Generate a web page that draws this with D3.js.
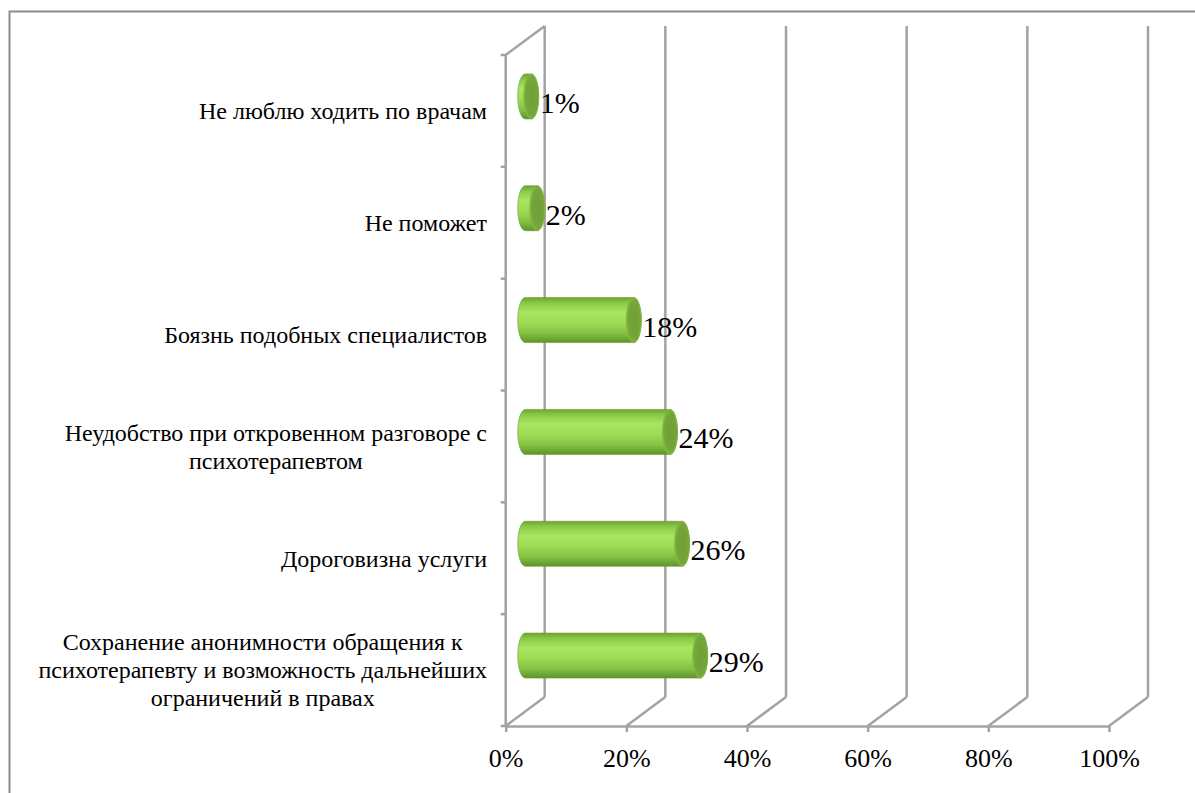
<!DOCTYPE html>
<html>
<head>
<meta charset="utf-8">
<script src="https://d3js.org/d3.v7.min.js"></script>
<style>
  html, body { margin: 0; padding: 0; background: #fff; }
  svg { display: block; }
  svg text { font-family: 'Liberation Serif', 'Times New Roman', serif; }
</style>
</head>
<body>
<svg id="chart" width="1195" height="793"></svg>
<script>
// Reasons for not seeing a psychotherapist, share of respondents (%)
const categories = [
  "Не люблю ходить по врачам",
  "Не поможет",
  "Боязнь подобных специалистов",
  "Неудобство при откровенном разговоре с\nпсихотерапевтом",
  "Дороговизна услуги",
  "Сохранение анонимности обращения к\nпсихотерапевту и возможность дальнейших\nограничений в правах"
];
const values = [1, 2, 18, 24, 26, 29];
const tickValues = [0, 20, 40, 60, 80, 100];

(function () {
const svg = d3.select("#chart");
const W = 1195, H = 793;
const serif = "'Liberation Serif', 'Times New Roman', serif";

// plot geometry: front plane of the 3D box and the depth offset of the back wall
const plotLeft = 505.7, plotRight = 1109, plotTop = 55, plotBottom = 726;
const depthX = 39, depthY = -29;
const gridColor = "#a3a3a3";

const x = d3.scaleLinear().domain([0, 100]).range([plotLeft, plotRight]);
const y = d3.scaleBand().domain(categories).range([plotTop, plotBottom]).paddingInner(0).paddingOuter(0);

// outer chart frame (right and bottom edges fall outside the page)
svg.append("rect")
  .attr("x", 9.5).attr("y", 11.5)
  .attr("width", W + 20).attr("height", H + 20)
  .attr("fill", "#fff")
  .attr("stroke", "#8c8c8c").attr("stroke-width", 2);

// gradients for the cylinders
const defs = svg.append("defs");
const body = defs.append("linearGradient").attr("id", "bodyGrad")
  .attr("x1", 0).attr("y1", 0).attr("x2", 0).attr("y2", 1);
[["0%", "#6ea432"], ["12%", "#8ac848"], ["32%", "#a8e660"], ["55%", "#9edc56"], ["80%", "#84c042"], ["100%", "#5f922b"]]
  .forEach(([o, c]) => body.append("stop").attr("offset", o).attr("stop-color", c));
const cap = defs.append("radialGradient").attr("id", "capGrad")
  .attr("cx", "55%").attr("cy", "50%").attr("r", "60%");
[["0%", "#6f9f36"], ["70%", "#74a63a"], ["100%", "#8cc24a"]]
  .forEach(([o, c]) => cap.append("stop").attr("offset", o).attr("stop-color", c));

const grid = svg.append("g")
  .attr("stroke", gridColor).attr("stroke-width", 2.5).attr("fill", "none")
  .attr("stroke-linecap", "butt");

// back wall gridlines and floor diagonals
tickValues.forEach(t => {
  grid.append("line")
    .attr("x1", x(t) + depthX).attr("y1", plotTop + depthY)
    .attr("x2", x(t) + depthX).attr("y2", plotBottom + depthY);
  grid.append("line")
    .attr("x1", x(t)).attr("y1", plotBottom)
    .attr("x2", x(t) + depthX).attr("y2", plotBottom + depthY);
});

// left wall: front edge, top diagonal and category ticks
grid.append("line").attr("x1", plotLeft).attr("y1", plotTop).attr("x2", plotLeft).attr("y2", plotBottom);
grid.append("line").attr("x1", plotLeft).attr("y1", plotTop).attr("x2", plotLeft + depthX).attr("y2", plotTop + depthY);
const edges = categories.map(c => y(c)).concat([plotBottom]);
edges.forEach(e => {
  grid.append("line").attr("x1", plotLeft - 5).attr("y1", e).attr("x2", plotLeft).attr("y2", e);
});

// horizontal axis along the front floor edge
const xAxis = d3.axisBottom(x).tickValues(tickValues).tickFormat(d => d + "%")
  .tickSizeInner(6).tickSizeOuter(0).tickPadding(17);
const gx = svg.append("g").attr("transform", `translate(0,${plotBottom})`).call(xAxis);
gx.attr("font-family", null);
gx.select(".domain").attr("stroke", gridColor).attr("stroke-width", 2.5);
gx.selectAll(".tick line").attr("stroke", gridColor).attr("stroke-width", 2.5);
gx.selectAll(".tick text")
  .style("font-family", serif)
  .attr("font-size", 26).attr("fill", "#000").attr("dy", "0.71em");

// category labels: wrapped lines centred within a right-aligned block
const catSize = 24, lineH = 28, labelRight = 487;
const labels = svg.append("g");
categories.forEach(c => {
  const lines = c.split("\n");
  const t = labels.append("text")
    .style("font-family", serif).attr("font-size", catSize).attr("fill", "#000")
    .attr("text-anchor", "middle");
  const cy = y(c) + y.bandwidth() / 2;
  lines.forEach((ln, i) => {
    t.append("tspan").text(ln)
      .attr("y", cy + (i - (lines.length - 1) / 2) * lineH)
      .attr("dy", "0.35em");
  });
  // measure widest line to place the block's right edge
  let maxW = 0;
  t.selectAll("tspan").each(function () { maxW = Math.max(maxW, this.getComputedTextLength()); });
  t.selectAll("tspan").attr("x", labelRight - maxW / 2);
});

// cylinders sit at mid-depth
const rx = 7.5, ry = 22.5;
const midX = depthX / 2, midY = depthY / 2;
const bars = svg.append("g");
categories.forEach((c, i) => {
  const v = values[i];
  const x0 = x(0) + midX, x1 = x(v) + midX;
  const cy = y(c) + y.bandwidth() / 2 + midY;
  const path = `M${x0},${cy - ry} L${x1},${cy - ry} A${rx},${ry} 0 0 1 ${x1},${cy + ry} L${x0},${cy + ry} A${rx},${ry} 0 0 1 ${x0},${cy - ry} Z`;
  bars.append("path").attr("d", path).attr("fill", "url(#bodyGrad)")
    .attr("stroke", "#6c9c33").attr("stroke-width", 0.6);
  bars.append("ellipse").attr("cx", x1).attr("cy", cy).attr("rx", rx).attr("ry", ry)
    .attr("fill", "url(#capGrad)").attr("stroke", "#80b840").attr("stroke-width", 0.8);
  bars.append("text")
    .attr("x", x1 + rx + 1).attr("y", cy + 16.5)
    .style("font-family", serif).attr("font-size", 30).attr("fill", "#000")
    .text(v + "%");
});
})();
</script>
</body>
</html>
